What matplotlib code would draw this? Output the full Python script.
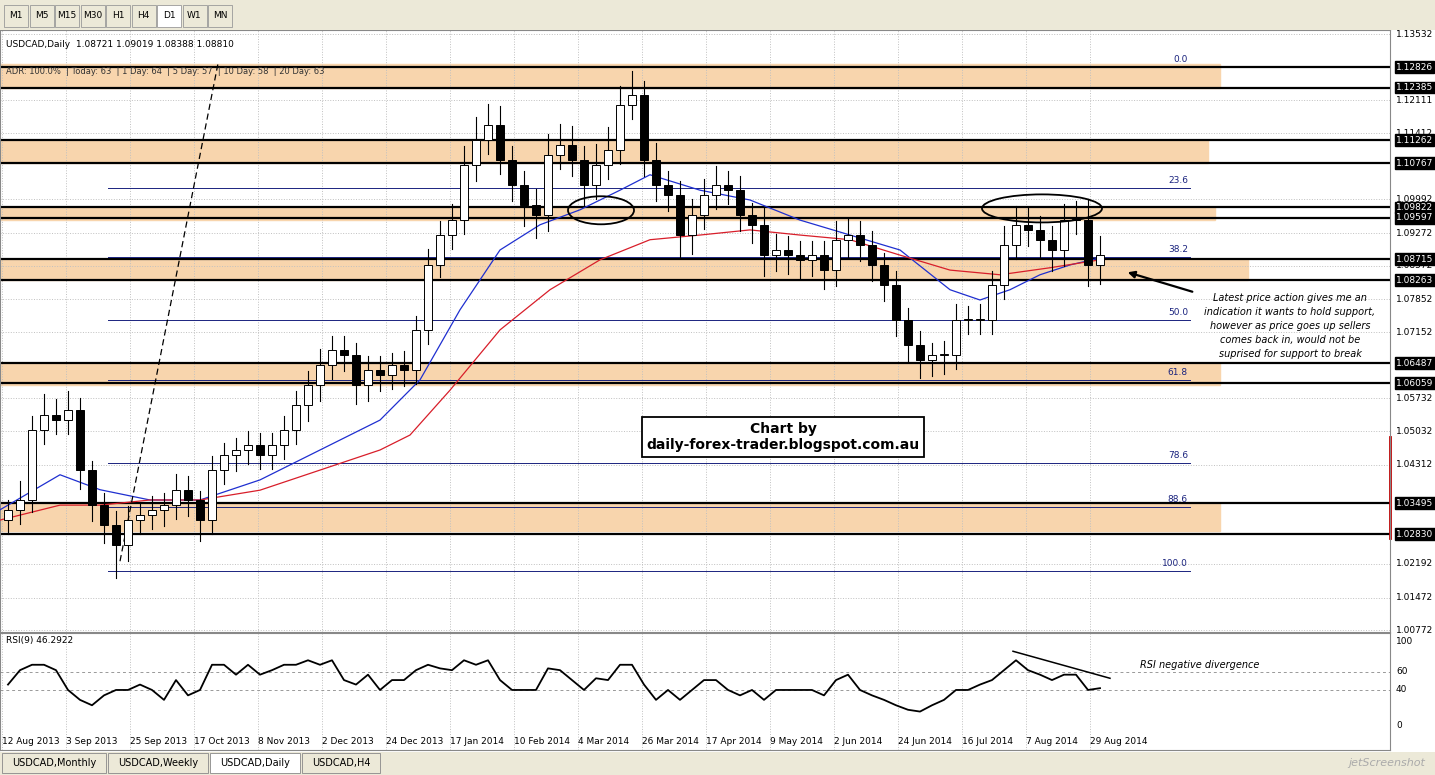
import matplotlib
matplotlib.use("Agg")
import matplotlib.pyplot as plt
from matplotlib.patches import Rectangle, Ellipse

closes = [1.0335,1.0356,1.0506,1.0538,1.0527,1.0549,1.0420,1.0345,1.0303,1.0260,1.0313,1.0324,1.0335,1.0345,1.0377,1.0356,1.0313,1.0420,1.0452,1.0463,1.0474,1.0452,1.0474,1.0506,1.0559,1.0602,1.0645,1.0677,1.0666,1.0602,1.0634,1.0624,1.0645,1.0634,1.0720,1.0859,1.0923,1.0955,1.1073,1.1126,1.1159,1.1084,1.1030,1.0987,1.0966,1.1094,1.1116,1.1084,1.1030,1.1073,1.1105,1.1201,1.1223,1.1084,1.1030,1.1009,1.0923,1.0966,1.1009,1.1030,1.1019,1.0966,1.0945,1.0880,1.0891,1.0880,1.0870,1.0880,1.0848,1.0912,1.0923,1.0902,1.0859,1.0816,1.0741,1.0688,1.0656,1.0666,1.0666,1.0741,1.0741,1.0741,1.0816,1.0902,1.0945,1.0934,1.0912,1.0891,1.0955,1.0955,1.0859,1.0881]
first_open = 1.0313
wick_up = [20,40,30,45,35,40,25,20,25,30,30,25,30,25,35,30,20,30,25,25,30,25,25,30,30,30,35,30,30,25,30,30,25,30,30,35,30,35,40,50,45,40,30,30,35,45,45,40,30,45,50,40,50,30,35,30,30,35,35,40,30,30,25,35,35,30,30,30,30,40,35,30,30,25,30,25,30,25,30,35,30,35,30,40,40,35,30,30,35,40,45,40]
wick_dn = [30,30,25,30,30,30,40,35,40,70,35,30,30,35,30,35,45,30,30,35,30,30,30,30,30,35,35,30,35,40,35,35,30,35,30,30,25,30,30,35,30,30,35,45,50,35,30,35,45,30,30,30,30,35,35,35,50,40,30,30,30,35,40,45,35,40,40,35,40,35,35,35,35,35,35,35,40,35,40,30,30,30,30,30,30,35,35,45,35,30,45,40]
rsi = [46,62,68,68,62,40,29,23,34,40,40,46,40,29,51,34,40,68,68,57,68,57,62,68,68,73,68,73,51,46,57,40,51,51,62,68,64,62,73,68,73,51,40,40,40,64,62,51,40,53,51,68,68,46,29,40,29,40,51,51,40,34,40,29,40,40,40,40,34,51,57,40,34,29,23,18,16,23,29,40,40,46,51,62,73,62,57,51,57,57,40,42]
ma_blue_x = [0,60,100,150,200,260,320,380,420,460,500,540,580,620,650,700,750,800,850,900,950,980,1010,1040,1070,1100]
ma_blue = [1.0335,1.0410,1.0378,1.0356,1.0356,1.0399,1.0463,1.0527,1.0613,1.0763,1.0891,1.0945,1.0977,1.1019,1.1052,1.1019,1.0998,1.0955,1.0923,1.0891,1.0806,1.0784,1.0806,1.0838,1.0859,1.0874]
ma_red_x = [0,60,100,150,200,260,320,380,410,450,500,550,600,650,700,750,800,850,900,950,1000,1050,1100]
ma_red = [1.0313,1.0345,1.0345,1.0356,1.0356,1.0377,1.0420,1.0463,1.0495,1.0591,1.0720,1.0806,1.0870,1.0913,1.0923,1.0934,1.0923,1.0913,1.0880,1.0848,1.0838,1.0853,1.0870]
levels = [1.12826,1.12385,1.11262,1.10767,1.09822,1.09597,1.08715,1.08263,1.06487,1.06059,1.03495,1.02830]
zones = [(1.12385,1.12890,1220),(1.10767,1.11262,1208),(1.09560,1.09822,1215),(1.08263,1.08715,1248),(1.06020,1.06487,1220),(1.02890,1.03495,1220)]
fib_names = ["0.0","23.6","38.2","50.0","61.8","78.6","88.6","100.0"]
fib_prices = [1.12826,1.10240,1.08760,1.07410,1.06130,1.04350,1.03410,1.02040]
tick_prices = [1.13532,1.12111,1.11412,1.09992,1.09272,1.08572,1.07852,1.07152,1.05732,1.05032,1.04312,1.02192,1.01472,1.00772]
date_labels = ["12 Aug 2013","3 Sep 2013","25 Sep 2013","17 Oct 2013","8 Nov 2013","2 Dec 2013","24 Dec 2013","17 Jan 2014","10 Feb 2014","4 Mar 2014","26 Mar 2014","17 Apr 2014","9 May 2014","2 Jun 2014","24 Jun 2014","16 Jul 2014","7 Aug 2014","29 Aug 2014"]
date_days = [16*i for i in range(len(date_labels))]

W, H = 1435, 775
fig = plt.figure(figsize=(W/100, H/100), dpi=100)
fig.patch.set_facecolor("white")
def px2x(x): return (x-2)/4
ax = fig.add_axes([0, (H-632)/H, 1390/W, 602/H])
ax.set_xlim(px2x(0), px2x(1390)); ax.set_ylim(1.00735, 1.13618)
ax.set_xticks([]); ax.set_yticks([])
for s in ax.spines.values(): s.set_color("#888888"); s.set_linewidth(0.8)
for d in date_days: ax.axvline(d, color="#c0c0c0", ls=":", lw=0.7)
for p in tick_prices: ax.axhline(p, color="#c0c0c0", ls=":", lw=0.7)
for lo, hi, xe in zones:
    ax.add_patch(Rectangle((px2x(0), lo), px2x(xe)-px2x(0), hi-lo, color="#f8d5ad", zorder=1))
for p in levels: ax.axhline(p, color="black", lw=1.6, zorder=2)
for n, p in zip(fib_names, fib_prices):
    if n != "0.0": ax.plot([px2x(108), px2x(1190)], [p, p], color="#1a237e", lw=0.7, zorder=2)
    ax.text(px2x(1188), p+0.0006, n, fontsize=6.5, color="#1a237e", ha="right", va="bottom")
ax.plot([px2x(x) for x in ma_blue_x], ma_blue, color="#1f2fd0", lw=0.9, zorder=3)
ax.plot([px2x(x) for x in ma_red_x], ma_red, color="#d81e2a", lw=0.9, zorder=3)
o = first_open
for i, c in enumerate(closes):
    d = 1.5 + 3*i
    hi = max(o, c) + wick_up[i]*1e-4; lo = min(o, c) - wick_dn[i]*1e-4
    ax.plot([d, d], [lo, hi], color="black", lw=0.8, zorder=4)
    ax.add_patch(Rectangle((d-0.9, min(o, c)), 1.8, max(abs(c-o), 0.0002),
                 facecolor="white" if c >= o else "black", edgecolor="black", lw=0.7, zorder=5))
    o = c
ax.plot([px2x(120), px2x(218)], [1.0225, 1.1290], color="black", ls=(0, (5, 3)), lw=0.9, zorder=4)
ax.add_patch(Ellipse((px2x(601), 1.0976), 66/4, 0.006, fill=False, lw=1.3, zorder=6))
ax.add_patch(Ellipse((px2x(1042), 1.0980), 120/4, 0.006, fill=False, lw=1.3, zorder=6))
ax.annotate("", xy=(px2x(1125), 1.0845), xytext=(px2x(1195), 1.0800),
            arrowprops=dict(arrowstyle="-|>", color="black", lw=1.6), zorder=7)
ax.text(px2x(1290), 1.0800, "Latest price action gives me an\nindication it wants to hold support,\nhowever as price goes up sellers\ncomes back in, would not be\nsuprised for support to break",
        fontsize=7, style="italic", ha="center", va="top", linespacing=1.5)
ax.text(px2x(783), 1.0490, "Chart by\ndaily-forex-trader.blogspot.com.au", fontsize=10, fontweight="bold",
        ha="center", va="center", bbox=dict(boxstyle="square,pad=0.35", fc="white", ec="black", lw=1.3), zorder=8)
ax.text(px2x(6), 1.1330, "USDCAD,Daily  1.08721 1.09019 1.08388 1.08810", fontsize=6.5, va="center")
ax.text(px2x(6), 1.1274, "ADR: 100.0%  | Today: 63  | 1 Day: 64  | 5 Day: 57  | 10 Day: 58  | 20 Day: 63", fontsize=6, va="center", color="#333333")
for p in tick_prices:
    ax.text(px2x(1396), p, f"{p:.5f}", fontsize=6.5, va="center", ha="left", clip_on=False)
for p in levels:
    ax.text(px2x(1396), p, f"{p:.5f}", fontsize=6.5, va="center", ha="left", color="white", clip_on=False,
            bbox=dict(boxstyle="square,pad=0.15", fc="black", ec="black"))
ax.plot([px2x(1390), px2x(1390)], [1.0275, 1.0490], color="#c00000", lw=2, clip_on=False)

ar = fig.add_axes([0, (H-750)/H, 1390/W, 117/H])
ar.set_xlim(px2x(0), px2x(1390)); ar.set_ylim(-26.7, 103.3)
ar.set_xticks([]); ar.set_yticks([])
for s in ar.spines.values(): s.set_color("#888888"); s.set_linewidth(0.8)
for d in date_days: ar.axvline(d, color="#c0c0c0", ls=":", lw=0.7)
for lv in [60, 40]: ar.axhline(lv, color="#999999", ls=(0, (3, 3)), lw=0.7)
ar.plot([1.5+3*i for i in range(len(rsi))], rsi, color="black", lw=1.3)
ar.plot([px2x(1013), px2x(1110)], [83, 53], color="black", lw=1.1)
ar.text(px2x(1140), 68, "RSI negative divergence", fontsize=7, style="italic", va="center")
ar.text(px2x(6), 95, "RSI(9) 46.2922", fontsize=6.5, va="center")
for lv in [100, 60, 40, 0]:
    ar.text(px2x(1396), min(lv, 94), str(lv), fontsize=6.5, va="center", clip_on=False)
for lab, d in zip(date_labels, date_days):
    fig.text((2+4*d)/W, (H-742)/H, lab, fontsize=6.5, ha="left", va="center")

fig.add_artist(Rectangle((0, (H-30)/H), 1, 30/H, transform=fig.transFigure, fc="#ece9d8", ec="none"))
for i, b in enumerate(["M1","M5","M15","M30","H1","H4","D1","W1","MN"]):
    x0 = 4 + i*25.5
    fig.add_artist(Rectangle((x0/W, (H-27)/H), 24/W, 22/H, transform=fig.transFigure,
                   fc="white" if b == "D1" else "#ece9d8", ec="#999999", lw=0.6))
    fig.text((x0+12)/W, (H-16)/H, b, fontsize=6.5, ha="center", va="center")
fig.add_artist(Rectangle((0, 0), 1, 23/H, transform=fig.transFigure, fc="#ece9d8", ec="none"))
tabs = ["USDCAD,Monthly","USDCAD,Weekly","USDCAD,Daily","USDCAD,H4"]
tx = [2, 108, 210, 302]; tw = [104, 100, 90, 78]
for t, x0, w in zip(tabs, tx, tw):
    fig.add_artist(Rectangle((x0/W, 2/H), w/W, 20/H, transform=fig.transFigure,
                   fc="white" if t == "USDCAD,Daily" else "#ece9d8", ec="#888888", lw=0.6))
    fig.text((x0+w/2)/W, 12/H, t, fontsize=7, ha="center", va="center")
fig.text(1425/W, 12/H, "jetScreenshot", fontsize=8, style="italic", color="#aaaaaa", ha="right", va="center")
fig.savefig("out.png", dpi=100)
